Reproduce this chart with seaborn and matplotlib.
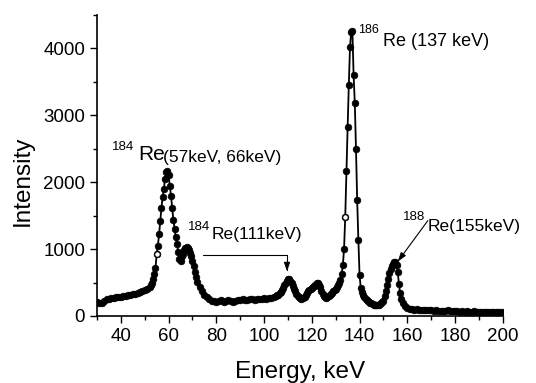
import pandas as pd
import seaborn as sns
import matplotlib.pyplot as plt
from matplotlib.ticker import MultipleLocator

# gamma spectrum (keV, counts)
energy_low = [30, 31, 32, 33, 34, 35, 36, 37, 38, 39, 40, 41, 42, 43, 44, 45,
              46, 47, 48, 49, 50, 51, 52]
intensity_low = [210, 200, 190, 230, 255, 250, 265, 270, 280, 285, 290, 300,
                 305, 310, 320, 330, 335, 350, 360, 375, 390, 410, 440]

energy_re184 = [52.5, 53, 53.5, 54, 54.5, 55, 55.5, 56, 56.5, 57, 57.5, 58,
                58.5, 59, 59.5, 60, 60.5, 61, 61.5, 62, 62.5, 63, 63.5, 64,
                64.5, 65, 65.5, 66, 66.5, 67, 67.5, 68, 68.5, 69, 69.5, 70,
                70.5, 71, 71.5, 72]
intensity_re184 = [470, 500, 550, 620, 720, 920, 1050, 1220, 1420, 1620, 1780,
                   1900, 2050, 2150, 2170, 2100, 1950, 1800, 1620, 1430, 1300,
                   1180, 1080, 960, 850, 820, 900, 930, 980, 1010, 1030, 1020,
                   980, 940, 890, 820, 740, 660, 580, 510]

energy_mid = [73, 74, 75, 76, 77, 78, 79, 80, 81, 82, 83, 84, 85, 86, 87, 88,
              89, 90, 91, 92, 93, 94, 95, 96, 97, 98, 99, 100, 101, 102, 103,
              104, 105]
intensity_mid = [440, 370, 320, 280, 250, 230, 220, 210, 225, 235, 215, 230,
                 240, 220, 205, 230, 240, 235, 250, 245, 240, 250, 255, 245,
                 250, 260, 255, 265, 260, 270, 275, 280, 295]

energy_peaks = [105.5, 106, 106.5, 107, 107.5, 108, 108.5, 109, 109.5, 110,
                110.5, 111, 111.5, 112, 112.5, 113, 113.5, 114, 114.5, 115,
                115.5, 116, 116.5, 117, 117.5, 118, 118.5, 119, 119.5, 120,
                120.5, 121, 121.5, 122, 122.5, 123, 123.5, 124, 124.5, 125,
                125.5, 126, 126.5, 127, 127.5, 128, 128.5, 129, 129.5, 130,
                130.5, 131, 131.5, 132, 132.5, 133, 133.5, 134, 134.5, 135,
                135.5, 136, 136.5, 137, 137.5, 138, 138.5, 139, 139.5, 140,
                140.5, 141, 141.5, 142, 142.5, 143, 143.5, 144, 144.5, 145,
                145.5, 146, 146.5, 147, 147.5, 148, 148.5, 149, 149.5, 150,
                150.5, 151, 151.5, 152, 152.5, 153, 153.5, 154, 154.5, 155,
                155.5, 156, 156.5, 157, 157.5, 158]
intensity_peaks = [310, 320, 340, 360, 390, 420, 460, 500, 530, 550,
                   560, 530, 490, 450, 410, 370, 330, 300, 280, 265,
                   260, 265, 275, 290, 310, 340, 370, 390, 405, 420,
                   440, 455, 470, 490, 495, 470, 430, 380, 330, 300,
                   280, 275, 285, 300, 320, 330, 350, 370, 390, 410,
                   430, 460, 500, 540, 620, 760, 1000, 1480, 2170, 2820,
                   3460, 4020, 4250, 4260, 3600, 3190, 2500, 1730, 1140, 610,
                   420, 360, 320, 290, 260, 240, 225, 210, 200, 190,
                   180, 170, 165, 160, 160, 165, 175, 190, 210, 230,
                   300, 380, 470, 560, 640, 700, 740, 770, 800, 800,
                   760, 650, 480, 340, 260, 200]

energy_high = [159, 160, 161, 162, 163, 164, 165, 166, 167, 168, 169, 170,
               171, 172, 173, 174, 175, 176, 177, 178, 179, 180, 181, 182,
               183, 184, 185, 186, 187, 188, 189, 190, 191, 192, 193, 194,
               195, 196, 197, 198, 199, 200]
intensity_high = [150, 120, 105, 100, 95, 100, 95, 90, 95, 90, 85, 90, 80, 85,
                  80, 75, 80, 75, 85, 75, 70, 75, 70, 65, 70, 65, 70, 60, 65,
                  70, 60, 65, 55, 60, 65, 55, 60, 65, 55, 60, 65, 60]

# points drawn as open circles in the original
open_energies = [55, 134]

df = pd.DataFrame({
    "energy": energy_low + energy_re184 + energy_mid + energy_peaks + energy_high,
    "intensity": intensity_low + intensity_re184 + intensity_mid
    + intensity_peaks + intensity_high,
})

sns.set_theme(style="ticks")
plt.rcParams["font.family"] = ["Liberation Sans", "DejaVu Sans"]
plt.rcParams["text.color"] = "black"
plt.rcParams["axes.labelcolor"] = "black"
plt.rcParams["xtick.color"] = "black"
plt.rcParams["ytick.color"] = "black"
plt.rcParams["axes.edgecolor"] = "black"

fig = plt.figure(figsize=(5.36, 3.83), dpi=100)
ax = fig.add_axes([0.181, 0.175, 0.757, 0.786])

sns.lineplot(data=df, x="energy", y="intensity", estimator=None, color="black",
             lw=1.3, marker="o", ms=4.8, mec="black", mew=0.5, ax=ax)
sns.scatterplot(data=df[df["energy"].isin(open_energies)], x="energy", y="intensity",
                marker="o", facecolor="white", edgecolor="black", s=16,
                linewidth=0.8, zorder=5, ax=ax)

ax.set_xlim(30, 200)
ax.set_ylim(0, 4500)
ax.xaxis.set_major_locator(MultipleLocator(20))
ax.xaxis.set_minor_locator(MultipleLocator(10))
ax.yaxis.set_major_locator(MultipleLocator(1000))
ax.yaxis.set_minor_locator(MultipleLocator(500))
ax.tick_params(which="major", direction="out", length=5, width=1,
               labelsize=13.5, color="black", labelcolor="black")
ax.tick_params(which="minor", direction="out", length=3, width=1, color="black")
sns.despine(ax=ax)
for s in ("left", "bottom"):
    ax.spines[s].set_linewidth(1.2)

ax.set_xlabel("Energy, keV", fontsize=17.5)
ax.set_ylabel("Intensity", fontsize=17.5)
ax.xaxis.label.set_va("center")
ax.yaxis.label.set_va("center")
ax.xaxis.set_label_coords(0.5, -0.187)
ax.yaxis.set_label_coords(-0.182, 0.448)

# peak labels
ax.text(36.3, 2530, "184", fontsize=9.5, ha="left", va="center")
ax.text(47.2, 2410, "Re", fontsize=15, ha="left", va="center")
ax.text(57.6, 2365, "(57keV, 66keV)", fontsize=12.5, ha="left", va="center")

ax.text(139.3, 4276, "186", fontsize=9, ha="left", va="center")
ax.text(149.8, 4097, "Re (137 keV)", fontsize=13, ha="left", va="center")

ax.text(68.1, 1336, "184", fontsize=9.5, ha="left", va="center")
ax.text(78.2, 1216, "Re(111keV)", fontsize=12.5, ha="left", va="center")
ax.annotate("", xy=(109.6, 664), xytext=(74.4, 918),
            arrowprops=dict(arrowstyle="-|>,head_length=0.45,head_width=0.15",
                            connectionstyle="angle,angleA=0,angleB=90,rad=0",
                            color="black", lw=0.8, shrinkA=0, shrinkB=0))

ax.text(158.1, 1485, "188", fontsize=9.5, ha="left", va="center")
ax.text(168.6, 1336, "Re(155keV)", fontsize=12.5, ha="left", va="center")
ax.annotate("", xy=(156.0, 813), xytext=(168.6, 1425),
            arrowprops=dict(arrowstyle="-|>,head_length=0.45,head_width=0.15",
                            color="black", lw=0.8, shrinkA=0, shrinkB=0))

fig.savefig("out.png", dpi=100, facecolor="white")
